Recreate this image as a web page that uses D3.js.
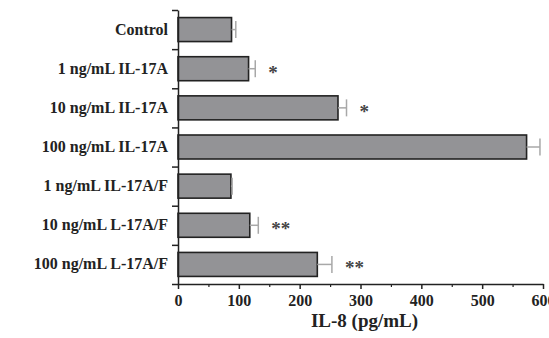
<!DOCTYPE html>
<html>
<head>
<meta charset="utf-8">
<script src="https://cdn.jsdelivr.net/npm/d3@7"></script>
<style>
  body { margin: 0; background: #fff; }
  svg { display: block; }
  text { font-family: "Liberation Serif", "Times New Roman", serif; font-weight: bold; fill: #222; }
</style>
</head>
<body>
<svg id="chart" width="549" height="338"></svg>
<script>
const categories = [
  "Control",
  "1 ng/mL IL-17A",
  "10 ng/mL IL-17A",
  "100 ng/mL IL-17A",
  "1 ng/mL IL-17A/F",
  "10 ng/mL L-17A/F",
  "100 ng/mL L-17A/F"
];
const means = [88, 116, 263, 573, 87, 118, 229];
const errors = [7, 11, 14, 22, 2, 14, 24];
const marks = ["", "*", "*", "", "", "**", "**"];
const xTicks = [0, 100, 200, 300, 400, 500, 600];
const xMinorTicks = [50, 150, 250, 350, 450, 550];

const rows = categories.map((c, i) => ({ name: c, mean: means[i], err: errors[i], mark: marks[i] }));

const svg = d3.select("#chart"),
  plotLeft = 178, plotRight = 543, plotTop = 10, plotBottom = 284;

const x = d3.scaleLinear().domain([0, 600]).range([plotLeft, plotRight]);
const pad = 0.387;
const y = d3.scaleBand().domain(categories).range([plotTop, plotBottom])
  .paddingInner(pad).paddingOuter(pad / 2);
const edges = d3.scaleLinear().domain([0, categories.length]).range([plotTop, plotBottom]);

// bars
svg.append("g").selectAll("rect")
  .data(rows)
  .enter()
  .append("rect")
  .attr("x", x(0))
  .attr("y", (d) => y(d.name))
  .attr("width", (d) => x(d.mean) - x(0))
  .attr("height", y.bandwidth())
  .style("fill", "#939396")
  .style("stroke", "#222")
  .style("stroke-width", 1.6);

// error bars
const eb = svg.append("g").selectAll("g")
  .data(rows)
  .enter()
  .append("g")
  .style("stroke", "#a8a8a8")
  .style("stroke-width", 1.5);
eb.append("line")
  .attr("x1", (d) => x(d.mean))
  .attr("x2", (d) => x(d.mean + d.err))
  .attr("y1", (d) => y(d.name) + y.bandwidth() / 2)
  .attr("y2", (d) => y(d.name) + y.bandwidth() / 2);
eb.append("line")
  .attr("x1", (d) => x(d.mean + d.err))
  .attr("x2", (d) => x(d.mean + d.err))
  .attr("y1", (d) => y(d.name) + y.bandwidth() / 2 - 8.5)
  .attr("y2", (d) => y(d.name) + y.bandwidth() / 2 + 8.5);

// significance stars
svg.append("g").selectAll("text")
  .data(rows.filter((d) => d.mark))
  .enter()
  .append("text")
  .attr("x", (d) => x(d.mean + d.err) + 13)
  .attr("y", (d) => y(d.name) + y.bandwidth() / 2 + 10)
  .style("font-size", "19px")
  .style("fill", "#444")
  .text((d) => d.mark);

// y axis: ticks between categories, labels at centres
svg.append("g")
  .attr("transform", `translate(${plotLeft},0)`)
  .call(d3.axisLeft(edges).tickValues(d3.range(categories.length + 1)).tickFormat("").tickSize(6).tickSizeOuter(0))
  .call((g) => g.selectAll("line, path").style("stroke", "#222").style("stroke-width", 1.5));

svg.append("g").selectAll("text")
  .data(categories)
  .enter()
  .append("text")
  .attr("x", plotLeft - 10)
  .attr("y", (d) => y(d) + y.bandwidth() / 2 + 5)
  .attr("text-anchor", "end")
  .style("font-size", "16px")
  .text((d) => d);

// x axis
const xAxis = svg.append("g")
  .attr("transform", `translate(0,${plotBottom})`)
  .call(d3.axisBottom(x).tickValues(xTicks).tickSize(5).tickSizeOuter(0).tickPadding(6));
xAxis.select(".domain").style("stroke", "#222").style("stroke-width", 1.5);
xAxis.selectAll(".tick line").style("stroke", "#222").style("stroke-width", 1.5);
xAxis.selectAll(".tick text")
  .style("font-family", '"Liberation Serif", serif')
  .style("font-size", "16px")
  .style("font-weight", "bold")
  .style("fill", "#222");

svg.append("g")
  .attr("transform", `translate(0,${plotBottom})`)
  .call(d3.axisBottom(x).tickValues(xMinorTicks).tickSize(3).tickFormat(""))
  .call((g) => g.select(".domain").remove())
  .call((g) => g.selectAll("line").style("stroke", "#222").style("stroke-width", 1.2));

svg.append("text")
  .attr("x", (plotLeft + plotRight) / 2 + 4)
  .attr("y", 327)
  .attr("text-anchor", "middle")
  .style("font-size", "19px")
  .text("IL-8 (pg/mL)");
</script>
</body>
</html>
